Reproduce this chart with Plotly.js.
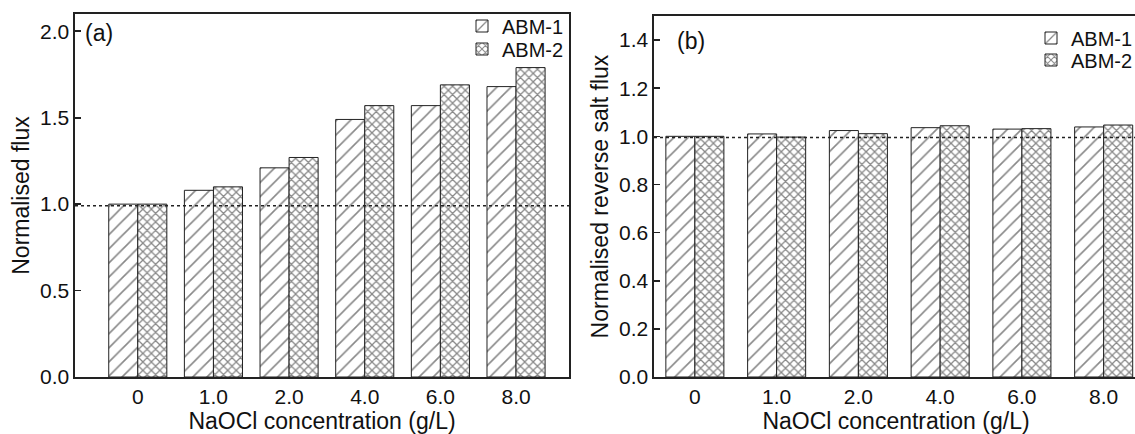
<!DOCTYPE html>
<html>
<head>
<meta charset="utf-8">
<script src="https://cdn.plot.ly/plotly-3.0.1.min.js"></script>
<style>
html, body { margin: 0; padding: 0; overflow: hidden; background: #fff; width: 1135px; height: 434px; }
#chart { width: 1145px; height: 434px; }
</style>
</head>
<body>
<div id="chart"></div>
<script>
// ---- data ----
const categories = ['0', '1.0', '2.0', '4.0', '6.0', '8.0'];
const seriesNames = ['ABM-1', 'ABM-2'];
const fluxABM1 = [1.00, 1.08, 1.21, 1.49, 1.57, 1.68];
const fluxABM2 = [1.00, 1.10, 1.27, 1.57, 1.69, 1.79];
const rsfABM1 = [1.000, 1.010, 1.024, 1.036, 1.030, 1.039];
const rsfABM2 = [1.000, 0.997, 1.011, 1.044, 1.032, 1.047];
const fluxTicks = [0, 0.5, 1.0, 1.5, 2.0];
const rsfTicks = [0, 0.2, 0.4, 0.6, 0.8, 1.0, 1.2, 1.4];

const FONT = 'Liberation Sans, Arial, sans-serif';
const INK = '#111111';
const LINE = '#222222';

function barTrace(name, y, xa, ya, shape, size, w, first, legendId) {
  return {
    type: 'bar', name: name, x: categories, y: y, xaxis: xa, yaxis: ya,
    width: w, offset: first ? -w : 0,
    legend: legendId,
    marker: {
      color: '#ffffff',
      line: { color: LINE, width: 1 },
      pattern: { shape: shape, size: size, solidity: shape === '/' ? 0.16 : 0.38, fgcolor: '#111111', bgcolor: '#ffffff', fillmode: 'overlay' }
    },
    hoverinfo: 'skip'
  };
}

const wa = 0.384, wb = 0.355;
const data = [
  barTrace(seriesNames[0], fluxABM1, 'x', 'y', '/', 10, wa, true, 'legend'),
  barTrace(seriesNames[1], fluxABM2, 'x', 'y', 'x', 6, wa, false, 'legend2'),
  barTrace(seriesNames[0], rsfABM1, 'x2', 'y2', '/', 10, wb, true, 'legend3'),
  barTrace(seriesNames[1], rsfABM2, 'x2', 'y2', 'x', 6, wb, false, 'legend4')
];

const W = 1145;
const axCommon = {
  showline: true, mirror: true, linecolor: LINE, linewidth: 1.6,
  showgrid: false, zeroline: false, automargin: false,
  tickfont: { family: FONT, size: 21, color: INK }
};

function leg(xpx, ypx) {
  return {
    x: xpx / W, xanchor: 'right', y: 1 - (ypx - 14) / 363, yanchor: 'middle',
    bgcolor: 'rgba(0,0,0,0)', borderwidth: 0,
    font: { family: FONT, size: 20, color: INK }, tracegroupgap: 0
  };
}

const layout = {
  width: W, height: 434,
  margin: { l: 0, r: 0, t: 14, b: 57 },
  paper_bgcolor: '#ffffff', plot_bgcolor: '#ffffff',
  barmode: 'group',
  font: { family: FONT, color: INK },
  showlegend: true,
  xaxis: Object.assign({}, axCommon, {
    domain: [75 / W, 569 / W], type: 'category', range: [-0.83, 5.70],
    ticks: '', anchor: 'y',
    title: { text: 'NaOCl concentration (g/L)', font: { family: FONT, size: 23, color: INK }, standoff: 11 }
  }),
  yaxis: Object.assign({}, axCommon, {
    domain: [0, 1], range: [0, 2.1], anchor: 'x',
    tickvals: fluxTicks, tickformat: '.1f', ticks: 'inside', ticklen: 6, tickwidth: 1.6, tickcolor: LINE,
    title: { text: 'Normalised flux', font: { family: FONT, size: 23, color: INK }, standoff: 4 }
  }),
  xaxis2: Object.assign({}, axCommon, {
    domain: [654 / W, 1138 / W], type: 'category', range: [-0.5, 5.42],
    ticks: '', anchor: 'y2',
    title: { text: 'NaOCl concentration (g/L)', font: { family: FONT, size: 23, color: INK }, standoff: 3 }
  }),
  yaxis2: Object.assign({}, axCommon, {
    domain: [0, 0.9945], range: [0, 1.5], anchor: 'x2',
    tickvals: rsfTicks, tickformat: '.1f', ticks: 'inside', ticklen: 6, tickwidth: 1.6, tickcolor: LINE,
    title: { text: 'Normalised reverse salt flux', font: { family: FONT, size: 23, color: INK }, standoff: 4 }
  }),
  legend: leg(569, 26),
  legend2: leg(569, 49),
  legend3: leg(1138, 38),
  legend4: leg(1138, 60),
  shapes: [
    { type: 'line', xref: 'x domain', yref: 'y', x0: 0, x1: 1, y0: 0.99, y1: 0.99, layer: 'above',
      line: { color: LINE, width: 1.5, dash: 'dot' } },
    { type: 'line', xref: 'x2 domain', yref: 'y2', x0: 0, x1: 1, y0: 0.995, y1: 0.995, layer: 'above',
      line: { color: LINE, width: 1.5, dash: 'dot' } }
  ],
  annotations: [
    { text: '(a)', xref: 'x domain', yref: 'y domain', x: 0.016, y: 0.948, xanchor: 'left', yanchor: 'middle',
      showarrow: false, font: { family: FONT, size: 23, color: INK } },
    { text: '(b)', xref: 'x2 domain', yref: 'y2 domain', x: 0.043, y: 0.93, xanchor: 'left', yanchor: 'middle',
      showarrow: false, font: { family: FONT, size: 23, color: INK } }
  ]
};

Plotly.newPlot('chart', data, layout, { staticPlot: true, displayModeBar: false });
</script>
</body>
</html>
